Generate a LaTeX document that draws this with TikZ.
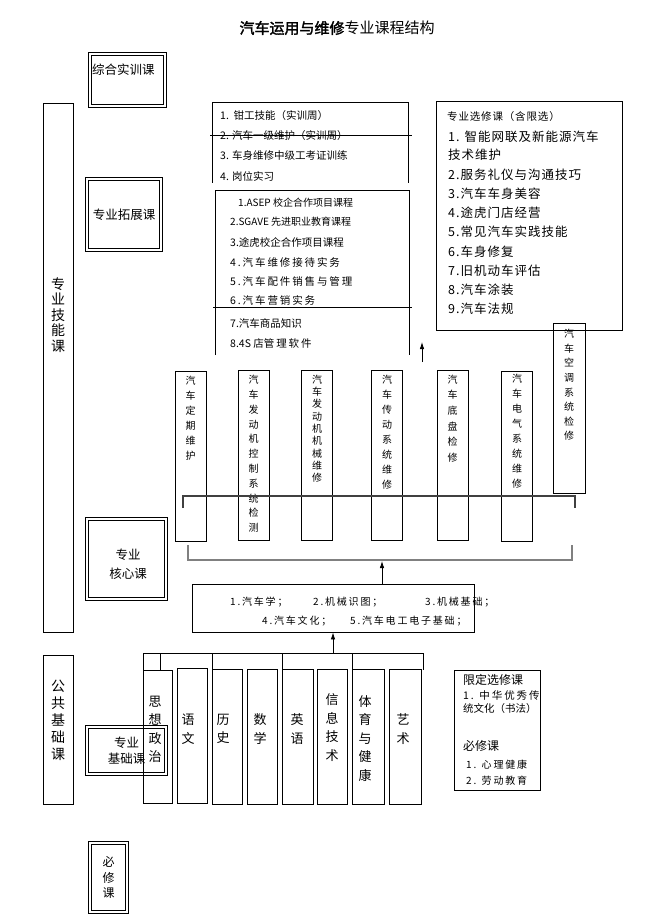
\documentclass[tikz,border=0pt]{standalone}
\usepackage{fontspec}
\setmainfont{Noto Sans CJK SC}
\newfontfamily\titlebf[FakeBold=2]{Noto Sans CJK SC}
\newfontfamily\lsA[LetterSpace=8]{Noto Sans CJK SC}
\newfontfamily\lsB[LetterSpace=18]{Noto Sans CJK SC}
\usetikzlibrary{arrows,arrows.meta,positioning}

\begin{document}
\begin{tikzpicture}[
  x=1pt, y=-1pt,
  box/.style={rectangle, draw, line width=0.8pt, inner sep=0pt},
  dbox/.style={rectangle, draw, line width=0.7pt, double, double distance=2.2pt, inner sep=0pt, align=center, font=\fontsize{12.5}{16}\selectfont},
  course/.style={box, minimum width=31pt, minimum height=170pt},
  subj/.style={box, minimum width=30pt, minimum height=135pt},
  vtext/.style={align=center, inner sep=0pt, font=\fontsize{10}{15}\selectfont},
  stext/.style={align=center, inner sep=0pt, font=\fontsize{13}{18.5}\selectfont},
  ctext/.style={align=center, inner sep=0pt, font=\fontsize{14}{15.5}\selectfont},
  item/.style={anchor=west, inner sep=0pt, font=\fontsize{10.5}{12}\selectfont},
  mitem/.style={anchor=west, inner sep=0pt, font=\lsB\fontsize{10.5}{12}\selectfont},
  ritem/.style={anchor=west, inner sep=0pt, font=\lsA\fontsize{12.5}{14}\selectfont},
  arrow/.style={-{Latex[length=7pt,width=4.5pt]}, line width=0.8pt},
  bracket/.style={line width=1.6pt, black!50}
]
\useasboundingbox (0,0) rectangle (645,920);
\fill[white] (0,0) rectangle (645,920);

% Title
\node[font=\fontsize{15}{18}\selectfont] (title) at (337,28) {{\titlebf 汽车运用与维修}专业课程结构};

% Left column labels
\node[box, minimum width=30pt, minimum height=529pt] (jineng) at (58,367.5) {};
\node[ctext] (jineng-t) at (58,315) {专\\业\\技\\能\\课};
\node[box, minimum width=30pt, minimum height=149pt] (gonggong) at (58,729.5) {};
\node[ctext, font=\fontsize{14}{17}\selectfont] (gonggong-t) at (58,720) {公\\共\\基\\础\\课};

% Double framed labels
\node[dbox, minimum width=75.4pt, minimum height=52.4pt] (zonghe) at (127.5,80) {};
\node[anchor=west, inner sep=0pt, font=\fontsize{12.5}{16}\selectfont] (zonghe-t) at (92,70) {综合实训课};
\node[dbox, minimum width=74.4pt, minimum height=71.4pt] (tuozhan) at (124,214.5) {专业拓展课};
\node[dbox, minimum width=79.4pt, minimum height=80.4pt] (hexin) at (126.5,559) {};
\node[align=center, inner sep=0pt, font=\fontsize{12.5}{19}\selectfont] (hexin-t) at (128,564.5) {专业\\核心课};
\node[dbox, minimum width=79.4pt, minimum height=47.4pt, font=\fontsize{12.5}{16}\selectfont] (jichuzy) at (126.5,750.5) {专业\\基础课};
\node[dbox, minimum width=37.4pt, minimum height=69.4pt, font=\fontsize{12}{15.5}\selectfont] (bixiu) at (108.5,877.5) {必\\修\\课};

% Practice weeks list
\draw[line width=0.8pt] (212,183) -- (212,102) -- (408,102) -- (408,183);
\node[item] (sx1) at (220,116) {1.\ \ 钳工技能（实训周）};
\node[item] (sx2) at (220,136) {2. 汽车一级维护（实训周）};
\node[item] (sx3) at (220,156) {3. 车身维修中级工考证训练};
\node[item] (sx4) at (220,176) {4. 岗位实习};
\draw[line width=0.8pt] (210,135.5) -- (412,135.5);

% Extension list
\draw[line width=0.8pt] (215,355) -- (215,190) -- (409,190) -- (409,355);
\draw[line width=0.8pt] (213,307) -- (412,307);
\node[item, font=\fontsize{10}{12}\selectfont] (tz1) at (238,203) {1.ASEP 校企合作项目课程};
\node[item, font=\fontsize{10}{12}\selectfont] (tz2) at (230,222) {2.SGAVE 先进职业教育课程};
\node[item] (tz3) at (230,242) {3.途虎校企合作项目课程};
\node[mitem] (tz4) at (230,262) {4.汽车维修接待实务};
\node[mitem] (tz5) at (230,281) {5.汽车配件销售与管理};
\node[mitem] (tz6) at (230,300) {6.汽车营销实务};
\node[item] (tz7) at (230,323) {7.汽车商品知识};
\node[item] (tz8) at (230,343) {8.4S 店{\lsB 管理软件}};

% Elective list
\node[box, minimum width=186pt, minimum height=229pt] (xuanxiu) at (529,215.5) {};
\node[ritem, font=\lsA\fontsize{10.5}{12}\selectfont] (xx0) at (447,117) {专业选修课（含限选）};
\node[ritem] (xx1) at (448,137) {1. 智能网联及新能源汽车};
\node[ritem] (xx1b) at (448,155) {技术维护};
\node[ritem] (xx2) at (448,175) {2.服务礼仪与沟通技巧};
\node[ritem] (xx3) at (448,194) {3.汽车车身美容};
\node[ritem] (xx4) at (448,213) {4.途虎门店经营};
\node[ritem] (xx5) at (448,232) {5.常见汽车实践技能};
\node[ritem] (xx6) at (448,252) {6.车身修复};
\node[ritem] (xx7) at (448,271) {7.旧机动车评估};
\node[ritem] (xx8) at (448,290) {8.汽车涂装};
\node[ritem] (xx9) at (448,309) {9.汽车法规};

\coordinate (ua) at (422,362);
\coordinate (ub) at (422,342);
\draw[arrow] (ua) -- (ub);

% Core courses
\node[course] (dingqi) at (190.5,456.5) {};
\node[course] (fdkongzhi) at (253.5,455.5) {};
\node[course] (fdjixie) at (317,455) {};
\node[course] (chuandong) at (387,455) {};
\node[course] (dipan) at (452.5,455) {};
\node[course] (dianqi) at (517,456.5) {};
\node[course, minimum width=32pt] (kongtiao) at (569,408.5) {};

\node[vtext, below=5pt of dingqi.north] (dingqi-t) {汽\\车\\定\\期\\维\\护};
\node[vtext, below=5pt of fdkongzhi.north, font=\fontsize{10}{14.8}\selectfont] (fdkongzhi-t) {汽\\车\\发\\动\\机\\控\\制\\系\\统\\检\\测};
\node[vtext, below=5pt of fdjixie.north, font=\fontsize{10}{12.3}\selectfont] (fdjixie-t) {汽\\车\\发\\动\\机\\机\\械\\维\\修};
\node[vtext, below=5pt of chuandong.north] (chuandong-t) {汽\\车\\传\\动\\系\\统\\维\\修};
\node[vtext, below=5pt of dipan.north, font=\fontsize{10}{15.6}\selectfont] (dipan-t) {汽\\车\\底\\盘\\检\\修};
\node[vtext, below=3pt of dianqi.north] (dianqi-t) {汽\\车\\电\\气\\系\\统\\维\\修};
\node[vtext, below=6pt of kongtiao.north, font=\fontsize{10}{14.6}\selectfont] (kongtiao-t) {汽\\车\\空\\调\\系\\统\\检\\修};

% Brackets
\coordinate (ul) at (183,508);
\coordinate (ur) at (575,508);
\draw[bracket, black!75, line width=1.2pt] (ul) -- ++(0,-12) -| (ur);
\coordinate (ll) at (188,545);
\coordinate (lr) at (572,545);
\draw[bracket] (ll) -- ++(0,15) -| (lr);
\coordinate (lm) at (382,561);

% Basic courses
\node[box, minimum width=282pt, minimum height=48pt] (jichu) at (333,608) {};
\node[item, font=\lsB\fontsize{10}{12}\selectfont] (jc1) at (230,602) {1.汽车学；};
\node[item, font=\lsB\fontsize{10}{12}\selectfont] (jc2) at (313,602) {2.机械识图；};
\node[item, font=\lsB\fontsize{10}{12}\selectfont] (jc3) at (425,602) {3.机械基础；};
\node[item, font=\lsB\fontsize{10}{12}\selectfont] (jc4) at (262,621) {4.汽车文化；};
\node[item, font=\lsB\fontsize{10}{12}\selectfont] (jc5) at (350,621) {5.汽车电工电子基础；};
\draw[arrow] (jichu.north -| lm) -- (lm);

% Public courses
\coordinate (bt) at (333,653);
\draw[line width=0.8pt] (143,653) -- (423,653);
\draw[line width=0.8pt] (143,653) -- (143,670) (160,653) -- (160,670) (212,653) -- (212,670)
  (282,653) -- (282,670) (352,653) -- (352,670) (423,653) -- (423,670);
\draw[arrow] (bt) -- (bt |- jichu.south);

\node[subj, minimum width=29pt, minimum height=133pt] (zhengzhi) at (157.5,736.5) {};
\node[subj] (yuwen) at (192,736) {};
\node[subj] (lishi) at (227,737) {};
\node[subj] (shuxue) at (262,737) {};
\node[subj, minimum width=31pt] (yingyu) at (297.5,737) {};
\node[subj] (xinxi) at (332,737) {};
\node[subj, minimum width=32pt] (tiyu) at (368,737) {};
\node[subj, minimum width=32pt] (yishu) at (405,737) {};

\node[stext] (zhengzhi-t) at (155,729.5) {思\\想\\政\\治};
\node[stext] (yuwen-t) at (188,729) {语\\文};
\node[stext] (lishi-t) at (223,729) {历\\史};
\node[stext] (shuxue-t) at (260,729) {数\\学};
\node[stext] (yingyu-t) at (297,729) {英\\语};
\node[stext] (xinxi-t) at (332,727.5) {信\\息\\技\\术};
\node[stext] (tiyu-t) at (365,738.5) {体\\育\\与\\健\\康};
\node[stext] (yishu-t) at (403,729) {艺\\术};

% Limited electives and compulsory
\node[box, minimum width=86pt, minimum height=120pt] (xianding) at (497,730) {};
\node[item, font=\fontsize{12}{14}\selectfont] (xd0) at (463,680) {限定选修课};
\node[item, font=\lsB\fontsize{10.5}{13}\selectfont] (xd1) at (463,695) {1. 中华优秀传};
\node[item] (xd2) at (463,709) {统文化（书法）};
\node[item, font=\fontsize{12}{14}\selectfont] (bx0) at (463,746) {必修课};
\node[item, font=\lsB\fontsize{10}{12}\selectfont] (bx1) at (466,765) {1. 心理健康};
\node[item, font=\lsB\fontsize{10}{12}\selectfont] (bx2) at (466,781) {2. 劳动教育};

\end{tikzpicture}
\end{document}
